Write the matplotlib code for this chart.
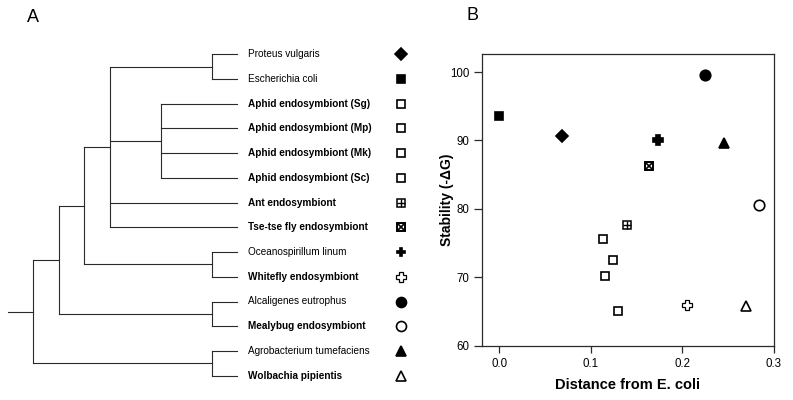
import matplotlib
matplotlib.use("Agg")
import matplotlib.pyplot as plt

plt.rcParams['font.family'] = ['Liberation Sans', 'DejaVu Sans']

# ---------------- data ----------------
taxa = ["Proteus vulgaris", "Escherichia coli",
        "Aphid endosymbiont (Sg)", "Aphid endosymbiont (Mp)",
        "Aphid endosymbiont (Mk)", "Aphid endosymbiont (Sc)",
        "Ant endosymbiont", "Tse-tse fly endosymbiont",
        "Oceanospirillum linum", "Whitefly endosymbiont",
        "Alcaligenes eutrophus", "Mealybug endosymbiont",
        "Agrobacterium tumefaciens", "Wolbachia pipientis"]
is_symbiont = [False, False, True, True, True, True, True, True,
               False, True, False, True, False, True]
marker_kind = ["D", "s", "s", "s", "s", "s", "box+", "boxx",
               "P", "P", "o", "o", "^", "^"]
marker_filled = [True, True, False, False, False, False, False, False,
                 True, False, True, False, True, False]
distance = [0.069, 0.000, 0.113, 0.124, 0.115, 0.130, 0.139, 0.164,
            0.173, 0.205, 0.225, 0.284, 0.245, 0.269]
stability = [90.6, 93.6, 75.6, 72.6, 70.2, 65.1, 77.6, 86.3,
             90.0, 66.0, 99.6, 80.5, 89.6, 65.8]

# tree topology: (node depth, children) ; ints are leaf indices
tree = (33.3, [(59.3, [(84.3, [(110.0, [(211.7, [0, 1]),
                                         (161.0, [2, 3, 4, 5]),
                                         6, 7]),
                                (211.7, [8, 9])]),
                       (211.7, [10, 11])]),
               (211.7, [12, 13])])
leaf_depth = 236.7
root_start = 8.3

x_ticks = [0.0, 0.1, 0.2, 0.3]
y_ticks = [60, 70, 80, 90, 100]

# ---------------- figure ----------------
W, H = 793, 400
fig = plt.figure(figsize=(W / 100, H / 100), dpi=100)

LINE = "#2a2a2a"


def draw_marker(ax, x, y, kind, filled, scale=1.0):
    if kind == "box+":
        ax.plot(x, y, marker="s", ms=5.6 * scale, mfc="white", mec="black",
                mew=1.1, ls="none", zorder=3)
        ax.plot(x, y, marker="+", ms=5.4 * scale, mec="black", mew=1.0,
                ls="none", zorder=4)
    elif kind == "boxx":
        ax.plot(x, y, marker="s", ms=5.6 * scale, mfc="white", mec="black",
                mew=1.4, ls="none", zorder=3)
        ax.plot(x, y, marker="x", ms=5.0 * scale, mec="black", mew=1.2,
                ls="none", zorder=4)
    elif kind == "P" and not filled:
        ax.plot(x, y, marker="P", ms=7.0 * scale, mfc="white", mec="black",
                mew=0.9, ls="none", zorder=3)
    else:
        size = {"D": 5.8, "s": 6.0, "P": 6.4, "o": 7.2, "^": 6.6}[kind]
        ax.plot(x, y, marker=kind, ms=size * scale,
                mfc="black" if filled else "white", mec="black",
                mew=1.2, ls="none", zorder=3)


# ---------- Panel A : dendrogram ----------
axA = fig.add_axes([0, 0, 420 / W, 1])
axA.set_xlim(0, 420)
y0, dy = 54.3, 24.72
axA.set_ylim((400 - y0) / dy, -y0 / dy)
axA.axis("off")


def draw_node(node):
    if isinstance(node, int):
        return node, leaf_depth
    depth, children = node
    ys = []
    for ch in children:
        cy, cx = draw_node(ch)
        axA.plot([depth, cx], [cy, cy], color=LINE, lw=0.8)
        ys.append(cy)
    axA.plot([depth, depth], [min(ys), max(ys)], color=LINE, lw=0.8)
    return (min(ys) + max(ys)) / 2, depth


ry, rx = draw_node(tree)
axA.plot([root_start, rx], [ry, ry], color=LINE, lw=0.8)

for i, name in enumerate(taxa):
    axA.text(248, i, name, fontsize=7.2, va="center", ha="left",
             fontweight="bold" if is_symbiont[i] else "normal")
    draw_marker(axA, 401, i, marker_kind[i], marker_filled[i])

fig.text(33 / W, 1 - 17 / H, "A", fontsize=13, ha="center", va="center")
fig.text(472 / W, 1 - 16 / H, "B", fontsize=13, ha="center", va="center")

# ---------- Panel B : scatter ----------
axB = fig.add_axes([481.7 / W, 1 - 345.7 / H, (774 - 481.7) / W,
                    (345.7 - 54.3) / H])
for i in range(len(taxa)):
    draw_marker(axB, distance[i], stability[i], marker_kind[i],
                marker_filled[i], scale=1.05)
axB.set_xlim(-0.0192, 0.3)
axB.set_ylim(60, 102.6)
axB.set_xticks(x_ticks)
axB.set_xticklabels([f"{v:.1f}" for v in x_ticks])
axB.set_yticks(y_ticks)
axB.set_yticklabels([str(v) for v in y_ticks])
axB.tick_params(axis="y", direction="out", length=6, width=0.9,
                labelsize=8.3, color=LINE, pad=3)
axB.tick_params(axis="x", direction="out", length=5.2, width=0.9,
                labelsize=8.3, color=LINE, pad=4)
for sp in axB.spines.values():
    sp.set_linewidth(0.9)
    sp.set_color(LINE)
axB.set_xlabel("Distance from E. coli", fontsize=10.5, fontweight="bold",
               va="center")
axB.xaxis.set_label_coords(0.5, -0.135)
axB.set_ylabel("Stability (-\u0394G)", fontsize=10, fontweight="bold",
               va="center")
axB.yaxis.set_label_coords(-0.120, 0.5)

fig.savefig("out.png", dpi=100)
